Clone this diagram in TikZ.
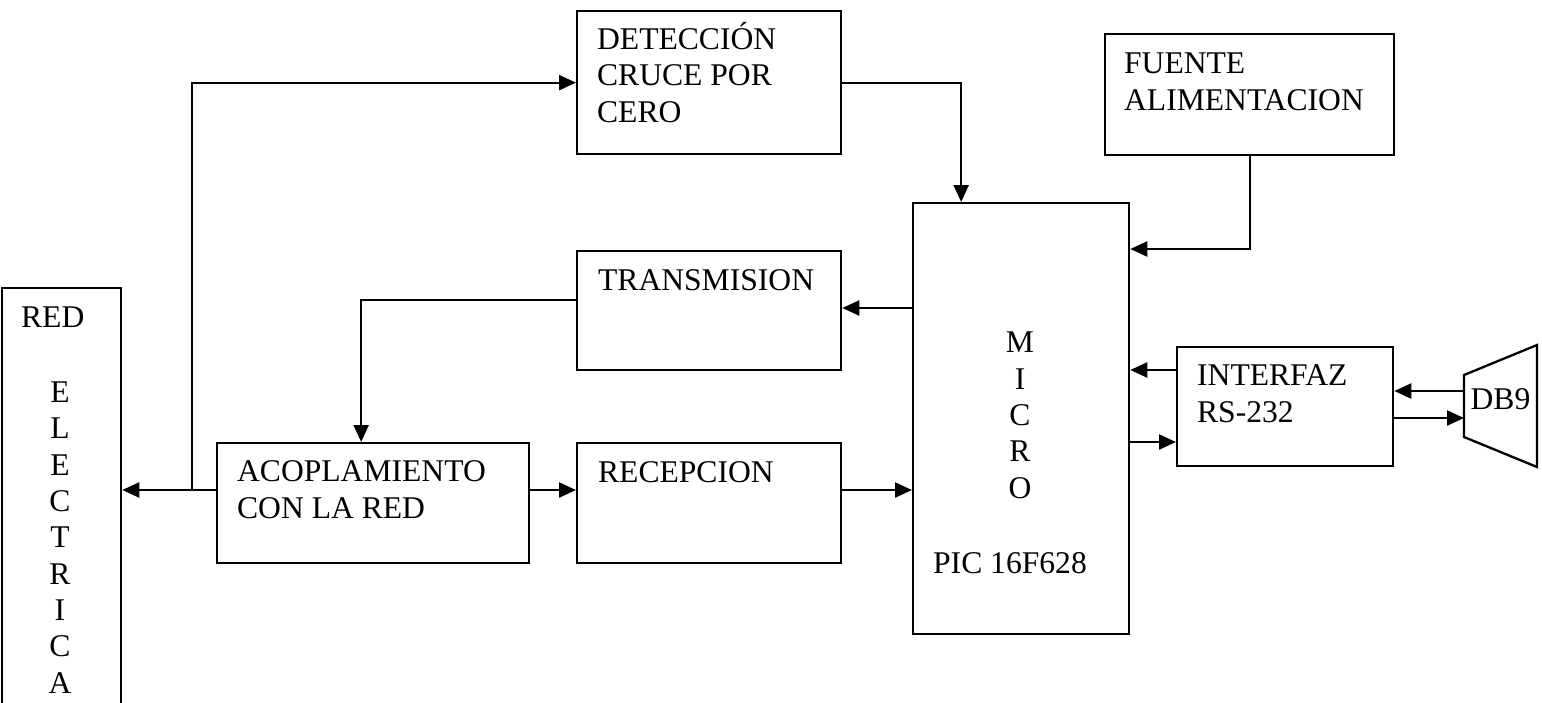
\documentclass[tikz,border=0pt]{standalone}
\usepackage{fontspec}
\setmainfont{Liberation Serif}
\usetikzlibrary{positioning,arrows.meta,calc}

\begin{document}
\begin{tikzpicture}[x=1pt,y=-1pt,line width=2.3pt,font=\fontsize{31.6}{36.3}\selectfont]
\tikzset{
 blk/.style={draw,rectangle,inner sep=0,anchor=north west},
 txt/.style={inner sep=0,anchor=base west,align=left},
 col/.style={inner sep=0,anchor=base,align=center},
 ar/.style={-{Triangle[length=17pt,width=15pt]}}
}
\path[use as bounding box] (0,0) rectangle (1542,702);
\clip (0,0) rectangle (1542,702);

% blocks
\node[blk,minimum width=119,minimum height=500] (red) at (1,287) {};
\node[blk,minimum width=264,minimum height=143] (det) at (576,10) {};
\node[blk,minimum width=289,minimum height=121] (fuente) at (1104,33) {};
\node[blk,minimum width=264,minimum height=119] (trans) at (576,250) {};
\node[blk,minimum width=312,minimum height=120] (acop) at (216,442) {};
\node[blk,minimum width=264,minimum height=120,anchor=west,right=45.7pt of acop] (recep) {};
\node[blk,minimum width=216,minimum height=431] (micro) at (912,202) {};
\node[blk,minimum width=216,minimum height=119] (interfaz) at (1176,346) {};
\node[inner sep=0,outer sep=0,minimum width=73,minimum height=62,text depth=13pt] (db9) at (1500.5,406) {DB9};
\draw (db9.north west) -- ([yshift=30pt]db9.north east) -- ([yshift=-30pt]db9.south east) -- (db9.south west) -- cycle;

% texts (anchored on the last line)
\node[txt] at (20,327) {RED};
\node[col] at (60,693) {E\\L\\E\\C\\T\\R\\I\\C\\A};
\node[txt] at (596,122) {DETECCIÓN\\CRUCE POR\\CERO};
\node[txt] at (1123,110) {FUENTE\\ALIMENTACION};
\node[txt] at (597,290) {TRANSMISION};
\node[txt] at (236,518) {ACOPLAMIENTO\\CON LA RED};
\node[txt] at (597,482) {RECEPCION};
\node[col] at (1020,498) {M\\I\\C\\R\\O};
\node[txt] at (932,573) {PIC 16F628};
\node[txt] at (1196,422) {INTERFAZ\\RS-232};

% signal levels
\coordinate (jn) at (192,490);
\coordinate (yrx) at (0,490);
\coordinate (ypw) at (0,249);
\coordinate (ymt) at (0,308);
\coordinate (ytx) at (0,300);
\coordinate (yi1) at (0,370);
\coordinate (yi2) at (0,442);
\coordinate (yd1) at (0,391);
\coordinate (yd2) at (0,418);

% connectors
\draw[ar] (acop.west |- yrx) -- (red.east |- yrx);
\draw[ar] (jn) |- (det.west);
\draw[ar] (det.east) -| ([xshift=-60pt]micro.north);
\draw[ar] (fuente.south) |- (micro.east |- ypw);
\draw[ar] (micro.west |- ymt) -- (trans.east |- ymt);
\draw[ar] (trans.west |- ytx) -| ([xshift=-12pt]acop.north);
\draw[ar] (acop.east |- yrx) -- (recep.west |- yrx);
\draw[ar] (recep.east |- yrx) -- (micro.west |- yrx);
\draw[ar] (interfaz.west |- yi1) -- (micro.east |- yi1);
\draw[ar] (micro.east |- yi2) -- (interfaz.west |- yi2);
\draw[ar] (db9.west |- yd1) -- (interfaz.east |- yd1);
\draw[ar] (interfaz.east |- yd2) -- (db9.west |- yd2);
\end{tikzpicture}
\end{document}
